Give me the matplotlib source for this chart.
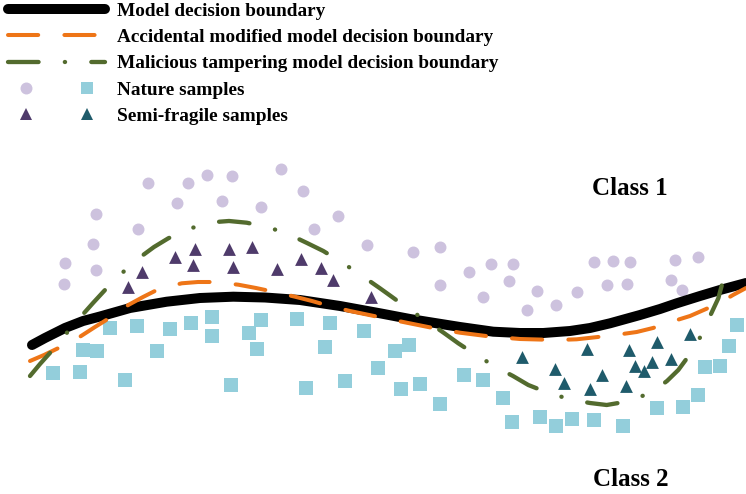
import matplotlib
matplotlib.use('Agg')
from matplotlib import pyplot as plt
from matplotlib.lines import Line2D
from matplotlib.legend_handler import HandlerTuple

plt.rcParams['font.family'] = ['Liberation Serif', 'DejaVu Serif']
plt.rcParams['font.weight'] = 'bold'

# picture is drawn in pixel space of the original (x right, y down)
# nature samples, class 1 (circles)
circle_x = [147.7, 187.7, 207.3, 232.3, 281, 303.3, 177, 222.3, 260.7, 96, 338.3, 138, 314.3,
            93.3, 65.3, 95.7, 367.3, 64.3, 412.7, 440, 468.7, 491, 512.7, 440, 509, 483.3,
            537.3, 527.3, 556.3, 576.7, 593.7, 613, 630, 607, 627.3, 674.7, 698, 670.7, 682]
circle_y = [182.7, 183, 174.7, 176.3, 169, 190.7, 202.7, 200.7, 207.3, 214.3, 216.3, 229.3, 229.3,
            244, 262.7, 269.7, 244.7, 283.7, 252, 246.7, 272, 264, 263.7, 284.7, 281, 297.3,
            290.7, 310, 305.3, 291.7, 261.7, 261, 261.7, 284.7, 283.7, 260, 256.7, 280.3, 290]

# nature samples, class 2 (squares)
square_x = [110.3, 137.3, 170.3, 191.3, 212.3, 212.3, 261.3, 249.3, 297.3, 330.3, 364.3, 82.7,
            97.3, 157.3, 257.3, 325.3, 378.3, 53.3, 80.3, 125.3, 231.3, 306.3, 345.3, 409.3,
            395.3, 401.3, 420.3, 440.3, 464.3, 483.3, 503.3, 512.3, 540.3, 556.3, 572.3, 594.3,
            623.3, 657.3, 683, 698.3, 704.7, 720.3, 729, 736.7]
square_y = [328.3, 326.3, 329.3, 323.3, 317.3, 336.3, 320.3, 333, 319.3, 323.3, 331.3, 350.3,
            351, 351.3, 349.3, 347.3, 368.3, 373.3, 372.3, 380.3, 385.3, 388.3, 381.3, 345,
            351.3, 389, 384.3, 404.3, 375.3, 380, 398, 422.3, 417, 426, 419, 420,
            426, 408, 407.3, 395.3, 367.3, 366.3, 346.3, 325.3]

# semi-fragile samples, class 1
tri1_x = [195, 228.7, 252.3, 175, 193, 232.7, 301.3, 320.7, 276.7, 142, 333.3, 128.3, 371]
tri1_y = [249, 248.7, 247.3, 257.3, 265.3, 267.3, 259, 268.3, 269, 272.3, 280.3, 287, 297]

# semi-fragile samples, class 2
tri2_x = [586.7, 521.7, 629.3, 656.7, 690.3, 670.7, 652.3, 635.3, 644.3, 555.3, 601.7, 564.3, 590, 626]
tri2_y = [348.7, 357.3, 350, 342.3, 333.7, 359.3, 362, 365.7, 371, 369, 374.7, 382.7, 388.7, 386]

# decision boundaries
model_x = [32, 45, 65, 83, 100, 130, 166.7, 200, 233.3, 265, 300, 340, 380, 410, 426.7, 460,
           493.3, 520, 543.3, 570, 590, 610, 640, 660, 676.7, 700, 720, 746]
model_y = [345, 338, 328, 321, 316.5, 308, 301.7, 298, 296.7, 297.5, 300, 306, 313.3, 319, 321.7, 327,
           331.7, 333, 333, 331, 328, 323.3, 315, 309, 303.3, 296, 290, 283]

accid_x = [30, 44, 60, 80, 95, 110, 128.3, 143, 158.3, 181.7, 198, 215, 238.3, 256, 273.3, 295,
           312, 328.3, 350, 385, 406.7, 433, 460, 490, 520, 556.7, 576.7, 613.3, 636.7, 653,
           668.3, 690, 706, 721.7, 733, 746]
accid_y = [361, 355, 347.3, 336.7, 327, 317.7, 305, 297, 289.3, 283.3, 282, 282, 284.7, 288, 291.7, 296.7,
           301, 305.7, 311, 318.3, 322.7, 328, 332.7, 336.5, 339, 340, 339.3, 335.3, 332, 328,
           322.7, 316, 309, 301.7, 295, 288]

malic_x = [30, 40, 51.7, 66.7, 81.7, 93, 105, 121.7, 140, 154, 168.3, 189.3, 211.7, 229, 246.7,
           270, 291.7, 307, 323.3, 343.3, 363.3, 380, 391.7, 410, 430, 444, 458.3, 477.7, 498.3,
           513, 528.3, 550.3, 573.3, 590, 606.7, 630, 652.7, 667, 678.3, 692.3, 704.3, 711,
           718.3, 724.3]
malic_y = [376, 364, 351, 333, 315.7, 303, 290, 273.3, 257.3, 247, 238.3, 228.7, 222.3, 221, 222.7,
           227.7, 235.7, 243, 251, 263.3, 276.7, 288.3, 296.7, 310, 323.3, 333, 343.3, 356, 368.3,
           376, 385, 393.7, 400, 403, 405, 401, 391.7, 381, 370, 351, 330, 314,
           298.3, 276]

c_circle = '#cdc2de'
c_square = '#93cedb'
c_tri1 = '#4f3b6b'
c_tri2 = '#1f5b6b'
c_model = 'black'
c_accid = '#ee7517'
c_malic = '#536b2e'

fig = plt.figure(figsize=(7.46, 4.94), dpi=100)
ax = fig.add_axes([0, 0, 1, 1])
ax.set_xlim(0, 746)
ax.set_ylim(494, 0)
ax.axis('off')

ax.scatter(circle_x, circle_y, s=74, marker='o', color=c_circle, linewidths=0, zorder=2)
ax.scatter(square_x, square_y, s=90, marker='s', color=c_square, linewidths=0, zorder=2)
ax.scatter(tri1_x, tri1_y, s=85, marker='^', color=c_tri1, linewidths=0, zorder=2)
ax.scatter(tri2_x, tri2_y, s=85, marker='^', color=c_tri2, linewidths=0, zorder=2)

l_model, = ax.plot(model_x, model_y, color=c_model, lw=7.2, solid_capstyle='round',
                   solid_joinstyle='round', zorder=3)
l_accid, = ax.plot(accid_x, accid_y, color=c_accid, lw=2.9, dashes=(7.5, 6.5),
                   dash_capstyle='round', zorder=4)
l_malic, = ax.plot(malic_x, malic_y, color=c_malic, lw=3.1, dashes=(7.1, 6.1, 0.05, 6.1),
                   dash_capstyle='round', zorder=5)

ax.text(630, 188, 'Class 1', fontsize=18, fontweight='bold', ha='center', va='center')
ax.text(631, 479, 'Class 2', fontsize=18, fontweight='bold', ha='center', va='center')

h_circ = Line2D([], [], ls='none', marker='o', markersize=8.6, color=c_circle, markeredgewidth=0)
h_sq = Line2D([], [], ls='none', marker='s', markersize=9.2, color=c_square, markeredgewidth=0)
h_t1 = Line2D([], [], ls='none', marker='^', markersize=9, color=c_tri1, markeredgewidth=0)
h_t2 = Line2D([], [], ls='none', marker='^', markersize=9, color=c_tri2, markeredgewidth=0)

labels = ['Model decision boundary',
          'Accidental modified model decision boundary',
          'Malicious tampering model decision boundary',
          'Nature samples',
          'Semi-fragile samples']
fig.legend([l_model, l_accid, l_malic, (h_circ, h_sq), (h_t1, h_t2)], labels,
           handler_map={tuple: HandlerTuple(ndivide=None, pad=1.3)},
           loc='upper left', bbox_to_anchor=(0.0107, 1.0 - 2 / 494), frameon=False,
           prop={'family': 'Liberation Serif', 'weight': 'bold', 'size': 13.9},
           handlelength=5.05, handletextpad=0.62, labelspacing=0.46,
           borderpad=0, borderaxespad=0, numpoints=1)

fig.savefig('out.png', dpi=100)
